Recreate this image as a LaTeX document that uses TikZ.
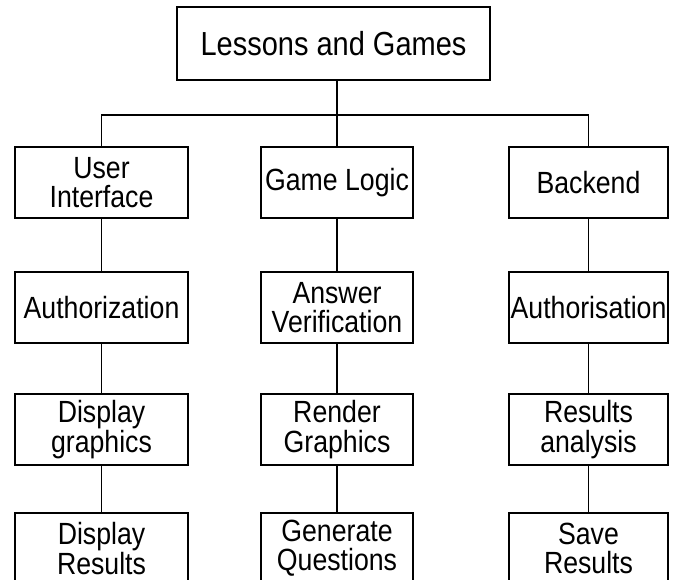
\documentclass[tikz,border=0pt]{standalone}
\usepackage{fontspec}
\setmainfont[FakeStretch=0.87]{Liberation Sans}
\usetikzlibrary{positioning}

\begin{document}
\begin{tikzpicture}[x=0.75pt,y=-0.75pt,
                    line width=1pt,
                    main node/.style={draw,align=center,inner sep=1pt,minimum height=53.25pt,font=\fontsize{23}{22}\selectfont},
                    top node/.style={main node,minimum width=234.75pt,minimum height=54.75pt,font=\fontsize{25}{26}\selectfont},
                    left col/.style={main node,minimum width=129.75pt},
                    mid col/.style={main node,minimum width=114pt},
                    right col/.style={main node,minimum width=119.25pt}
                   ]
  \useasboundingbox (0,0) rectangle (675,580);

  \node[top node] (lessons) at (333.5,43.5) {Lessons and Games};
  \coordinate (bus) at (337,115);

  \node[left col]  (ui)       at (101.5,182.5) {User\\Interface};
  \node[mid col]   (logic)    at (337.0,182.5) {Game Logic};
  \node[right col] (backend)  at (588.5,182.5) {Backend};

  \node[left col]  (auth)     at (101.5,307.5) {Authorization};
  \node[mid col]   (verify)   at (337.0,307.5) {Answer\\Verification};
  \node[right col] (authbe)   at (588.5,307.5) {Authorisation};

  \node[left col]  (dispgfx)  at (101.5,429.5) {Display\\graphics};
  \node[mid col]   (render)   at (337.0,429.5) {Render\\Graphics};
  \node[right col] (analysis) at (588.5,429.5) {Results\\analysis};

  \node[left col]  (dispres)  at (101.5,548.5) {Display\\Results};
  \node[mid col]   (generate) at (337.0,548.5) {Generate\\Questions};
  \node[right col] (save)     at (588.5,548.5) {Save\\Results};

  \draw (lessons.south -| bus) -- (bus);
  \draw (ui.north) |- (bus) -| (backend.north);
  \draw (bus) -- (logic.north);

  \path%
      (ui) edge (auth)
      (auth) edge (dispgfx)
      (dispgfx) edge (dispres)
      (logic) edge (verify)
      (verify) edge (render)
      (render) edge (generate)
      (backend) edge (authbe)
      (authbe) edge (analysis)
      (analysis) edge (save);
\end{tikzpicture}
\end{document}
